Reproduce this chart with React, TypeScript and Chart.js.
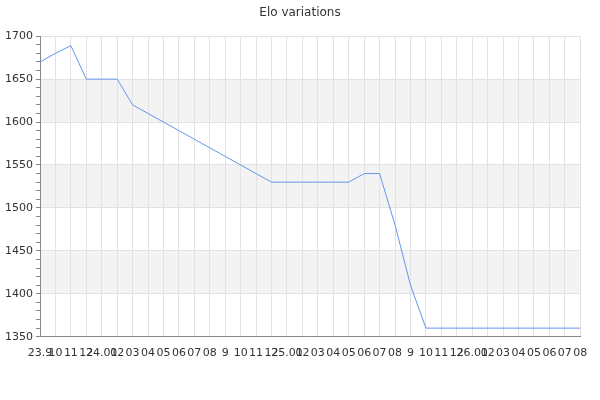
import React, { useEffect, useRef } from "react";
import { Chart, registerables } from "chart.js";

Chart.register(...registerables);

const labels: string[] = [
  "23.9", "10", "11", "12",
  "24.01", "02", "03", "04", "05", "06", "07", "08", "9", "10", "11", "12",
  "25.01", "02", "03", "04", "05", "06", "07", "08", "9", "10", "11", "12",
  "26.01", "02", "03", "04", "05", "06", "07", "08",
];

const eloValues: number[] = [
  1670, 1680, 1689, 1650,
  1650, 1650, 1620, 1610, 1600, 1590, 1580, 1570, 1560, 1550, 1540, 1530,
  1530, 1530, 1530, 1530, 1530, 1540, 1540, 1480, 1410, 1360, 1360, 1360,
  1360, 1360, 1360, 1360, 1360, 1360, 1360, 1360,
];

const yMin = 1350;
const yMax = 1700;
const yMajor = 50;
const yMinor = 10;

const bandPlugin = {
  id: "bands",
  beforeDraw(chart: any) {
    const { ctx, chartArea } = chart;
    const y = chart.scales.y;
    ctx.save();
    ctx.fillStyle = "#f3f3f3";
    let i = 0;
    for (let v = yMin; v < yMax; v += yMajor, i++) {
      if (i % 2 === 1) {
        const top = y.getPixelForValue(v + yMajor);
        const bottom = y.getPixelForValue(v);
        ctx.fillRect(chartArea.left, top, chartArea.right - chartArea.left, bottom - top);
      }
    }
    ctx.restore();
  },
};

export default function App() {
  const ref = useRef<HTMLCanvasElement | null>(null);

  useEffect(() => {
    if (!ref.current) return;
    const font = { family: "'DejaVu Sans', sans-serif", size: 11 };
    const chart = new Chart(ref.current, {
      type: "line",
      data: {
        labels,
        datasets: [
          {
            label: "Elo",
            data: eloValues,
            borderColor: "#6495ed",
            backgroundColor: "#6495ed",
            borderWidth: 1,
            pointRadius: 0,
            tension: 0,
            fill: false,
            yAxisID: "y",
          },
        ],
      },
      options: {
        animation: false,
        responsive: false,
        devicePixelRatio: 1,
        layout: { padding: 0 },
        plugins: {
          legend: { display: false },
          tooltip: { enabled: false },
          title: {
            display: true,
            text: "Elo variations",
            color: "#333",
            font: { family: "'DejaVu Sans', sans-serif", size: 12, weight: "normal" },
            padding: { top: 5.5, bottom: 16.3 },
          },
        },
        scales: {
          x: {
            offset: false,
            grid: { color: "#e2e2e2", drawTicks: false },
            border: { color: "#888", width: 1 },
            ticks: {
              autoSkip: false,
              maxRotation: 0,
              minRotation: 0,
              padding: 9.5,
              color: "#333",
              font,
            },
            afterFit(scale: any) {
              scale.height = 63.3;
            },
          },
          y: {
            min: yMin,
            max: yMax,
            grid: {
              color: (c: any) =>
                c.tick && Math.round(c.tick.value) % yMajor === 0 ? "#e2e2e2" : "rgba(0,0,0,0)",
              tickColor: "#888",
              tickLength: 4,
            },
            border: { color: "#888", width: 1 },
            ticks: {
              stepSize: yMinor,
              autoSkip: false,
              padding: 3,
              color: "#333",
              font,
              callback: (v: any) => (Math.round(v) % yMajor === 0 ? String(Math.round(v)) : ""),
            },
            afterFit(scale: any) {
              scale.width = 40;
            },
          },
          yr: {
            type: "linear",
            position: "right",
            grid: { display: false, drawOnChartArea: false },
            border: { display: false },
            ticks: { display: false },
            afterFit(scale: any) {
              scale.width = 19.7;
            },
          },
        },
      },
      plugins: [bandPlugin],
    });
    return () => chart.destroy();
  }, []);

  return (
    <div style={{ position: "fixed", left: 0, top: 0, width: 600, height: 400, background: "#fff" }}>
      <canvas ref={ref} width={600} height={400} />
    </div>
  );
}
